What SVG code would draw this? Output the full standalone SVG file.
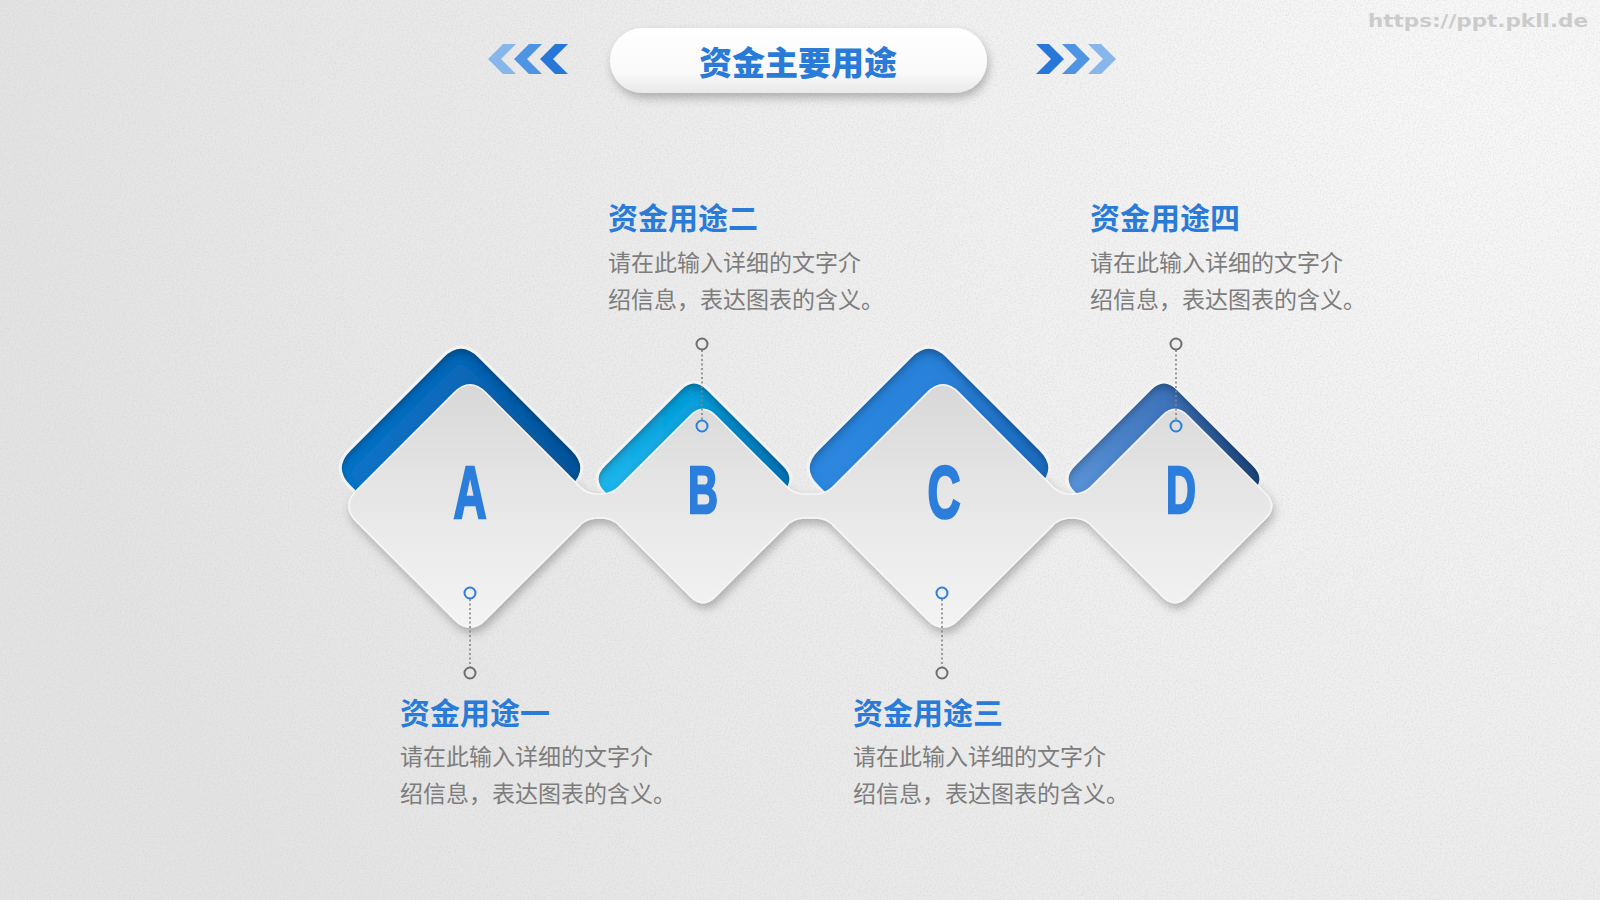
<svg xmlns="http://www.w3.org/2000/svg" xmlns:xlink="http://www.w3.org/1999/xlink" width="1600" height="900" viewBox="0 0 1600 900">
<style>
.h{font-family:"Noto Sans CJK SC","Noto Sans",sans-serif;font-weight:700;font-size:30px;fill:#2a7bd8}
.b{font-family:"Noto Sans CJK SC","Noto Sans",sans-serif;font-weight:400;font-size:23px;fill:#7d7d7d}
.L{font-family:"Liberation Sans",Arial,sans-serif;font-weight:700;fill:#2b7edb;stroke:#2b7edb;stroke-width:2.5;text-anchor:middle}
.dot{stroke:#858585;stroke-width:1.6;stroke-dasharray:2 2.5;fill:none}
.cb{fill:none;stroke:#2b7edb;stroke-width:2}
.cg{fill:none;stroke:#6e6e6e;stroke-width:2}
.rim{fill:none;stroke:#f3f3f3;stroke-width:3}
</style>
<defs>
<radialGradient id="bg" cx="1500" cy="40" r="1500" gradientUnits="userSpaceOnUse">
<stop offset="0" stop-color="#f8f8f8"/><stop offset="1" stop-color="#e3e3e3"/>
</radialGradient>
<filter id="noise" x="0" y="0" width="100%" height="100%">
<feTurbulence type="fractalNoise" baseFrequency="0.6" numOctaves="2" seed="3"/>
<feColorMatrix type="matrix" values="0 0 0 0 0.6 0 0 0 0 0.6 0 0 0 0 0.6 0.8 0 0 0 -0.33"/>
</filter>
<linearGradient id="pill" x1="0" y1="0" x2="0" y2="1">
<stop offset="0" stop-color="#ffffff"/><stop offset="0.7" stop-color="#f9f9f9"/><stop offset="1" stop-color="#e9e9e9"/>
</linearGradient>
<filter id="ds" x="-10%" y="-20%" width="120%" height="150%">
<feDropShadow dx="2" dy="5" stdDeviation="5" flood-color="#000" flood-opacity="0.26"/>
</filter>
<filter id="inset" x="-10%" y="-10%" width="120%" height="120%">
<feFlood flood-color="#001a40" flood-opacity="0.6" result="f"/>
<feComposite in="f" in2="SourceAlpha" operator="out" result="o"/>
<feGaussianBlur in="o" stdDeviation="5" result="b"/>
<feOffset in="b" dx="0" dy="6" result="bo"/>
<feComposite in="bo" in2="SourceAlpha" operator="in" result="s"/>
<feMerge><feMergeNode in="SourceGraphic"/><feMergeNode in="s"/></feMerge>
</filter>
<linearGradient id="white" x1="0" y1="377" x2="0" y2="635" gradientUnits="userSpaceOnUse">
<stop offset="0" stop-color="#d7d7d7"/><stop offset="0.55" stop-color="#e9e9e9"/><stop offset="1" stop-color="#f4f4f4"/>
</linearGradient>
<linearGradient id="gA" x1="0" y1="0" x2="1" y2="0">
<stop offset="0" stop-color="#0e74c8"/><stop offset="0.5" stop-color="#0a67b8"/><stop offset="1" stop-color="#08559c"/>
</linearGradient>
<linearGradient id="gB" x1="0" y1="0" x2="1" y2="0">
<stop offset="0" stop-color="#22b8ee"/><stop offset="0.5" stop-color="#0a9edb"/><stop offset="1" stop-color="#0a78bd"/>
</linearGradient>
<linearGradient id="gC" x1="0" y1="0" x2="1" y2="0">
<stop offset="0" stop-color="#2d88e0"/><stop offset="0.6" stop-color="#2a80d8"/><stop offset="1" stop-color="#1f6cc0"/>
</linearGradient>
<linearGradient id="gD" x1="0" y1="0" x2="1" y2="0">
<stop offset="0" stop-color="#5a94d8"/><stop offset="0.5" stop-color="#3f74bc"/><stop offset="1" stop-color="#22497e"/>
</linearGradient>
<path id="hA" d="M349.4,449.6 L442.6,356.4 Q461,338 479.4,356.4 L572.6,449.6 Q591,468 572.6,486.4 L479.4,579.6 Q461,598 442.6,579.6 L349.4,486.4 Q331,468 349.4,449.6 Z"/>
<path id="hB" d="M604.1,464.9 L679.9,389.1 Q694,375 708.1,389.1 L783.9,464.9 Q798,479 783.9,493.1 L708.1,568.9 Q694,583 679.9,568.9 L604.1,493.1 Q590,479 604.1,464.9 Z"/>
<path id="hC" d="M817.4,449.6 L910.6,356.4 Q929,338 947.4,356.4 L1040.6,449.6 Q1059,468 1040.6,486.4 L947.4,579.6 Q929,598 910.6,579.6 L817.4,486.4 Q799,468 817.4,449.6 Z"/>
<path id="hD" d="M1074.1,464.9 L1149.9,389.1 Q1164,375 1178.1,389.1 L1253.9,464.9 Q1268,479 1253.9,493.1 L1178.1,568.9 Q1164,583 1149.9,568.9 L1074.1,493.1 Q1060,479 1074.1,464.9 Z"/>
</defs>

<rect width="1600" height="900" fill="url(#bg)"/>
<rect width="1600" height="900" filter="url(#noise)"/>

<text x="1588" y="27" text-anchor="end" font-family="'DejaVu Sans',sans-serif" font-weight="700" font-size="18" fill="#cbcbcb" textLength="220" lengthAdjust="spacingAndGlyphs">https://ppt.pkll.de</text>

<g id="title">
<rect x="610" y="28" width="377" height="65" rx="32.5" fill="url(#pill)" filter="url(#ds)"/>
<text x="798" y="75" text-anchor="middle" font-family="'Noto Sans CJK SC',sans-serif" font-weight="900" font-size="33" fill="#2a7bd8">资金主要用途</text>
<polygon points="488,59 503,44 516,44 501,59 516,74 503,74" fill="#86b6ec"/>
<polygon points="514,59 529,44 542,44 527,59 542,74 529,74" fill="#4f93e3"/>
<polygon points="540,59 555,44 568,44 553,59 568,74 555,74" fill="#2677d8"/>
<polygon points="1036,44 1049,44 1064,59 1049,74 1036,74 1051,59" fill="#2677d8"/>
<polygon points="1062,44 1075,44 1090,59 1075,74 1062,74 1077,59" fill="#4f93e3"/>
<polygon points="1088,44 1101,44 1116,59 1101,74 1088,74 1103,59" fill="#86b6ec"/>
</g>

<g id="cutouts">
<g id="cutout-A"><use xlink:href="#hA" fill="url(#gA)" filter="url(#inset)"/><use xlink:href="#hA" class="rim"/></g>
<g id="cutout-B"><use xlink:href="#hB" fill="url(#gB)" filter="url(#inset)"/><use xlink:href="#hB" class="rim"/></g>
<g id="cutout-C"><use xlink:href="#hC" fill="url(#gC)" filter="url(#inset)"/><use xlink:href="#hC" class="rim"/></g>
<g id="cutout-D"><use xlink:href="#hD" fill="url(#gD)" filter="url(#inset)"/><use xlink:href="#hD" class="rim"/></g>
</g>

<g id="base">
<path fill="url(#white)" stroke="#f7f7f7" stroke-width="1.5" filter="url(#ds)" d="M356.6,490.4 L454.4,392.6 Q470,377 485.6,392.6 L579.9,486.9 Q587,494 597,494 L602,494 Q612,494 619.1,486.9 L690.3,415.7 Q703,403 715.7,415.7 L786.9,486.9 Q794,494 804,494 L816,494 Q826,494 833.1,486.9 L927.4,392.6 Q943,377 958.6,392.6 L1052.9,486.9 Q1060,494 1070,494 L1074,494 Q1084,494 1091.1,486.9 L1162.3,415.7 Q1175,403 1187.7,415.7 L1265.3,493.3 Q1278,506 1265.3,518.7 L1187.7,596.3 Q1175,609 1162.3,596.3 L1091.1,525.1 Q1084,518 1074,518 L1070,518 Q1060,518 1052.9,525.1 L958.6,619.4 Q943,635 927.4,619.4 L833.1,525.1 Q826,518 816,518 L804,518 Q794,518 786.9,525.1 L715.7,596.3 Q703,609 690.3,596.3 L619.1,525.1 Q612,518 602,518 L597,518 Q587,518 579.9,525.1 L485.6,619.4 Q470,635 454.4,619.4 L356.6,521.6 Q341,506 356.6,490.4 Z"/>
</g>

<g id="node-A">
<text class="L" font-size="74" transform="translate(470,518) scale(0.62,1)">A</text>
<text class="h" x="400" y="724">资金用途一</text>
<text class="b" x="400" y="765">请在此输入详细的文字介</text>
<text class="b" x="400" y="802">绍信息，表达图表的含义。</text>
</g>
<g id="node-B">
<text class="L" font-size="67" transform="translate(703,513) scale(0.62,1)">B</text>
<text class="h" x="608" y="229">资金用途二</text>
<text class="b" x="608" y="271">请在此输入详细的文字介</text>
<text class="b" x="608" y="308">绍信息，表达图表的含义。</text>
</g>
<g id="node-C">
<text class="L" font-size="74" transform="translate(944,518) scale(0.62,1)">C</text>
<text class="h" x="853" y="724">资金用途三</text>
<text class="b" x="853" y="765">请在此输入详细的文字介</text>
<text class="b" x="853" y="802">绍信息，表达图表的含义。</text>
</g>
<g id="node-D">
<text class="L" font-size="67" transform="translate(1181,513) scale(0.62,1)">D</text>
<text class="h" x="1090" y="229">资金用途四</text>
<text class="b" x="1090" y="271">请在此输入详细的文字介</text>
<text class="b" x="1090" y="308">绍信息，表达图表的含义。</text>
</g>

<g id="connectors">
<line class="dot" x1="470" y1="599" x2="470" y2="667"/>
<circle class="cb" cx="470" cy="593" r="5.5"/>
<circle class="cg" cx="470" cy="673" r="5.5"/>
<line class="dot" x1="702" y1="350" x2="702" y2="420"/>
<circle class="cg" cx="702" cy="344" r="5.5"/>
<circle class="cb" cx="702" cy="426" r="5.5"/>
<line class="dot" x1="942" y1="599" x2="942" y2="667"/>
<circle class="cb" cx="942" cy="593" r="5.5"/>
<circle class="cg" cx="942" cy="673" r="5.5"/>
<line class="dot" x1="1176" y1="350" x2="1176" y2="420"/>
<circle class="cg" cx="1176" cy="344" r="5.5"/>
<circle class="cb" cx="1176" cy="426" r="5.5"/>
</g>
</svg>
